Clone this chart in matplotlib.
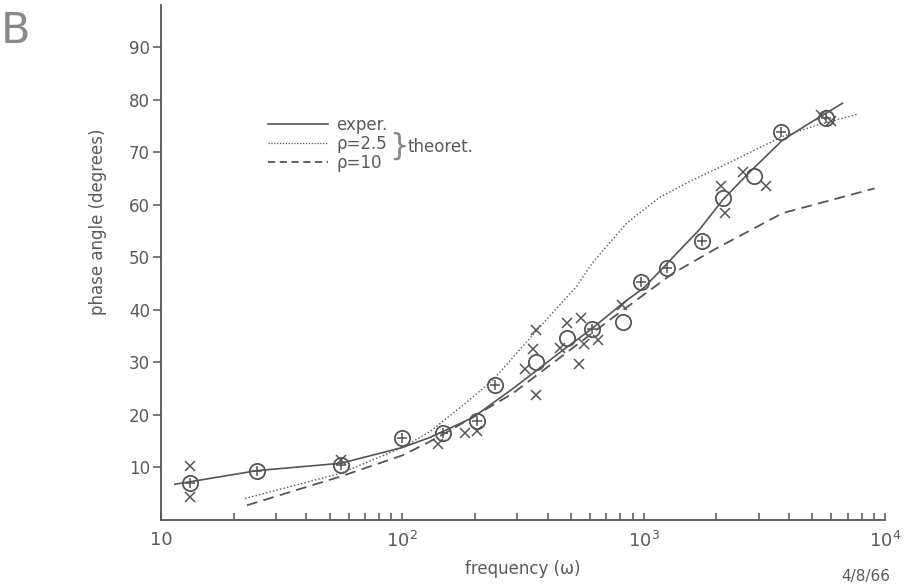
import matplotlib
matplotlib.use("Agg")
import matplotlib.pyplot as plt
from matplotlib.lines import Line2D
from matplotlib.ticker import LogLocator, NullFormatter

# solid curve (experimental)
exper_w = [11.4, 25, 55.6, 100, 130, 196, 287, 361, 462, 598, 818, 1008,
           1164, 1448, 1706, 2124, 2749, 3767, 4866, 6668]
exper_phi = [6.8, 9.4, 10.8, 13.8, 15.7, 19.5, 25.0, 28.5, 32.3, 36.1, 41.2,
             44.3, 47.3, 51.9, 55.3, 60.9, 66.2, 72.3, 75.5, 79.3]
# dotted curve, rho = 2.5
rho25_w = [22.3, 55.6, 100, 130, 178, 237, 361, 528, 615, 851, 1164, 1596,
           2064, 3767, 5200, 7690]
rho25_phi = [4.1, 8.9, 13.8, 16.8, 21.8, 26.6, 36.1, 44.5, 49.0, 56.5, 61.4,
             64.7, 67.1, 73.0, 75.1, 77.2]
# dashed curve, rho = 10
rho10_w = [22.7, 55.6, 100, 126, 157, 287, 462, 744, 1059, 1318, 2005, 3767,
           9060]
rho10_phi = [2.8, 8.3, 12.3, 14.6, 17.0, 24.1, 31.3, 38.5, 43.7, 46.9, 51.7,
             58.4, 63.1]

# circles with a cross inside
cross_circ_w = [13.2, 25, 55.6, 100, 147, 203, 241, 609, 972, 1244, 1738,
                3725, 5722]
cross_circ_phi = [7.1, 9.4, 10.4, 15.7, 16.5, 18.8, 25.6, 36.3, 45.2, 47.9,
                  53.0, 73.8, 76.5]
# plain circles
circ_w = [357, 480, 818, 2124, 2852]
circ_phi = [30.0, 34.6, 37.6, 61.2, 65.4]
# single x marks
x_w = [13.2, 13.2, 55.6, 141, 181, 203, 321, 347, 357, 357, 449, 480, 538,
       548, 565, 645, 811, 2084, 2165, 2569, 3228, 5450, 6000]
x_phi = [10.2, 4.3, 11.5, 14.4, 16.5, 16.9, 28.7, 32.5, 36.1, 23.7, 32.7,
         37.4, 29.6, 38.4, 33.4, 34.2, 40.9, 63.5, 58.4, 66.2, 63.5, 77.0,
         76.0]

parameters = {
    "color": "#555555",
    "text color": "#5a5a5a",
    "fontsize": 12,
}
col = parameters["color"]
tcol = parameters["text color"]

fig = plt.figure(figsize=(9.17, 5.88), dpi=100)
ax = fig.add_axes([0.1756, 0.1156, 0.7895, 0.876])

ax.plot(exper_w, exper_phi, "-", color=col, lw=1.2)
ax.plot(rho25_w, rho25_phi, ":", color=col, lw=1.0, dashes=(1, 1.6))
ax.plot(rho10_w, rho10_phi, "--", color=col, lw=1.3, dashes=(6, 3.5))

ax.plot(cross_circ_w, cross_circ_phi, "o", ms=11, mfc="none", mec=col, mew=1.3)
ax.plot(cross_circ_w, cross_circ_phi, "+", ms=7, mec=col, mew=1.1)
ax.plot(circ_w, circ_phi, "o", ms=11, mfc="none", mec=col, mew=1.3)
ax.plot(x_w, x_phi, "x", ms=6.5, mec=col, mew=1.1)

ax.set_xscale("log")
ax.set_xlim(10, 1e4)
ax.set_ylim(0, 98)
ax.spines["top"].set_visible(False)
ax.spines["right"].set_visible(False)
for side in ["left", "bottom"]:
    ax.spines[side].set_color(col)
    ax.spines[side].set_linewidth(1.3)

ax.set_xticks([10, 1e2, 1e3, 1e4], ["10", "$10^2$", "$10^3$", "$10^4$"])
ax.xaxis.set_minor_locator(LogLocator(base=10, subs=range(2, 10)))
ax.xaxis.set_minor_formatter(NullFormatter())
ax.tick_params(axis="x", which="both", direction="in", length=5, width=1.1,
               color=col, labelcolor=tcol, labelsize=13, pad=8)
ax.set_yticks(range(10, 100, 10))
ax.tick_params(axis="y", direction="out", length=6, width=1.1, color=col,
               labelcolor=tcol, labelsize=parameters["fontsize"], pad=2)

ax.set_xlabel("frequency (ω)", fontsize=parameters["fontsize"], color=tcol,
              labelpad=6)
ax.set_ylabel("phase angle (degrees)", fontsize=parameters["fontsize"],
              color=tcol, labelpad=12)
ax.yaxis.set_label_coords(-0.075, 0.58)

handles = [Line2D([], [], color=col, lw=1.2, ls="-"),
           Line2D([], [], color=col, lw=0.9, ls=":", dashes=(1, 1.3)),
           Line2D([], [], color=col, lw=1.3, ls="--", dashes=(4, 2.5))]
leg = ax.legend(handles, ["exper.", "ρ=2.5", "ρ=10"], frameon=False,
                loc="upper left", bbox_to_anchor=(268 / 917, 1 - 116 / 588),
                bbox_transform=fig.transFigure, borderpad=0, borderaxespad=0,
                handlelength=3.6, handletextpad=0.5, labelspacing=0.05,
                fontsize=parameters["fontsize"])
for t in leg.get_texts():
    t.set_color(tcol)

fig.text(389 / 917, 1 - 146 / 588, "}", fontsize=22, color="#888888",
         ha="left", va="center")
fig.text(408 / 917, 1 - 147 / 588, "theoret.", fontsize=parameters["fontsize"],
         color=tcol, ha="left", va="center")
fig.text(1 / 917, 1 - 31 / 588, "B", fontsize=31, color="#888888", ha="left",
         va="center")
fig.text(890 / 917, 1 - 577 / 588, "4/8/66", fontsize=11, color=tcol,
         ha="right", va="center")

fig.savefig("out.png", dpi=100)
